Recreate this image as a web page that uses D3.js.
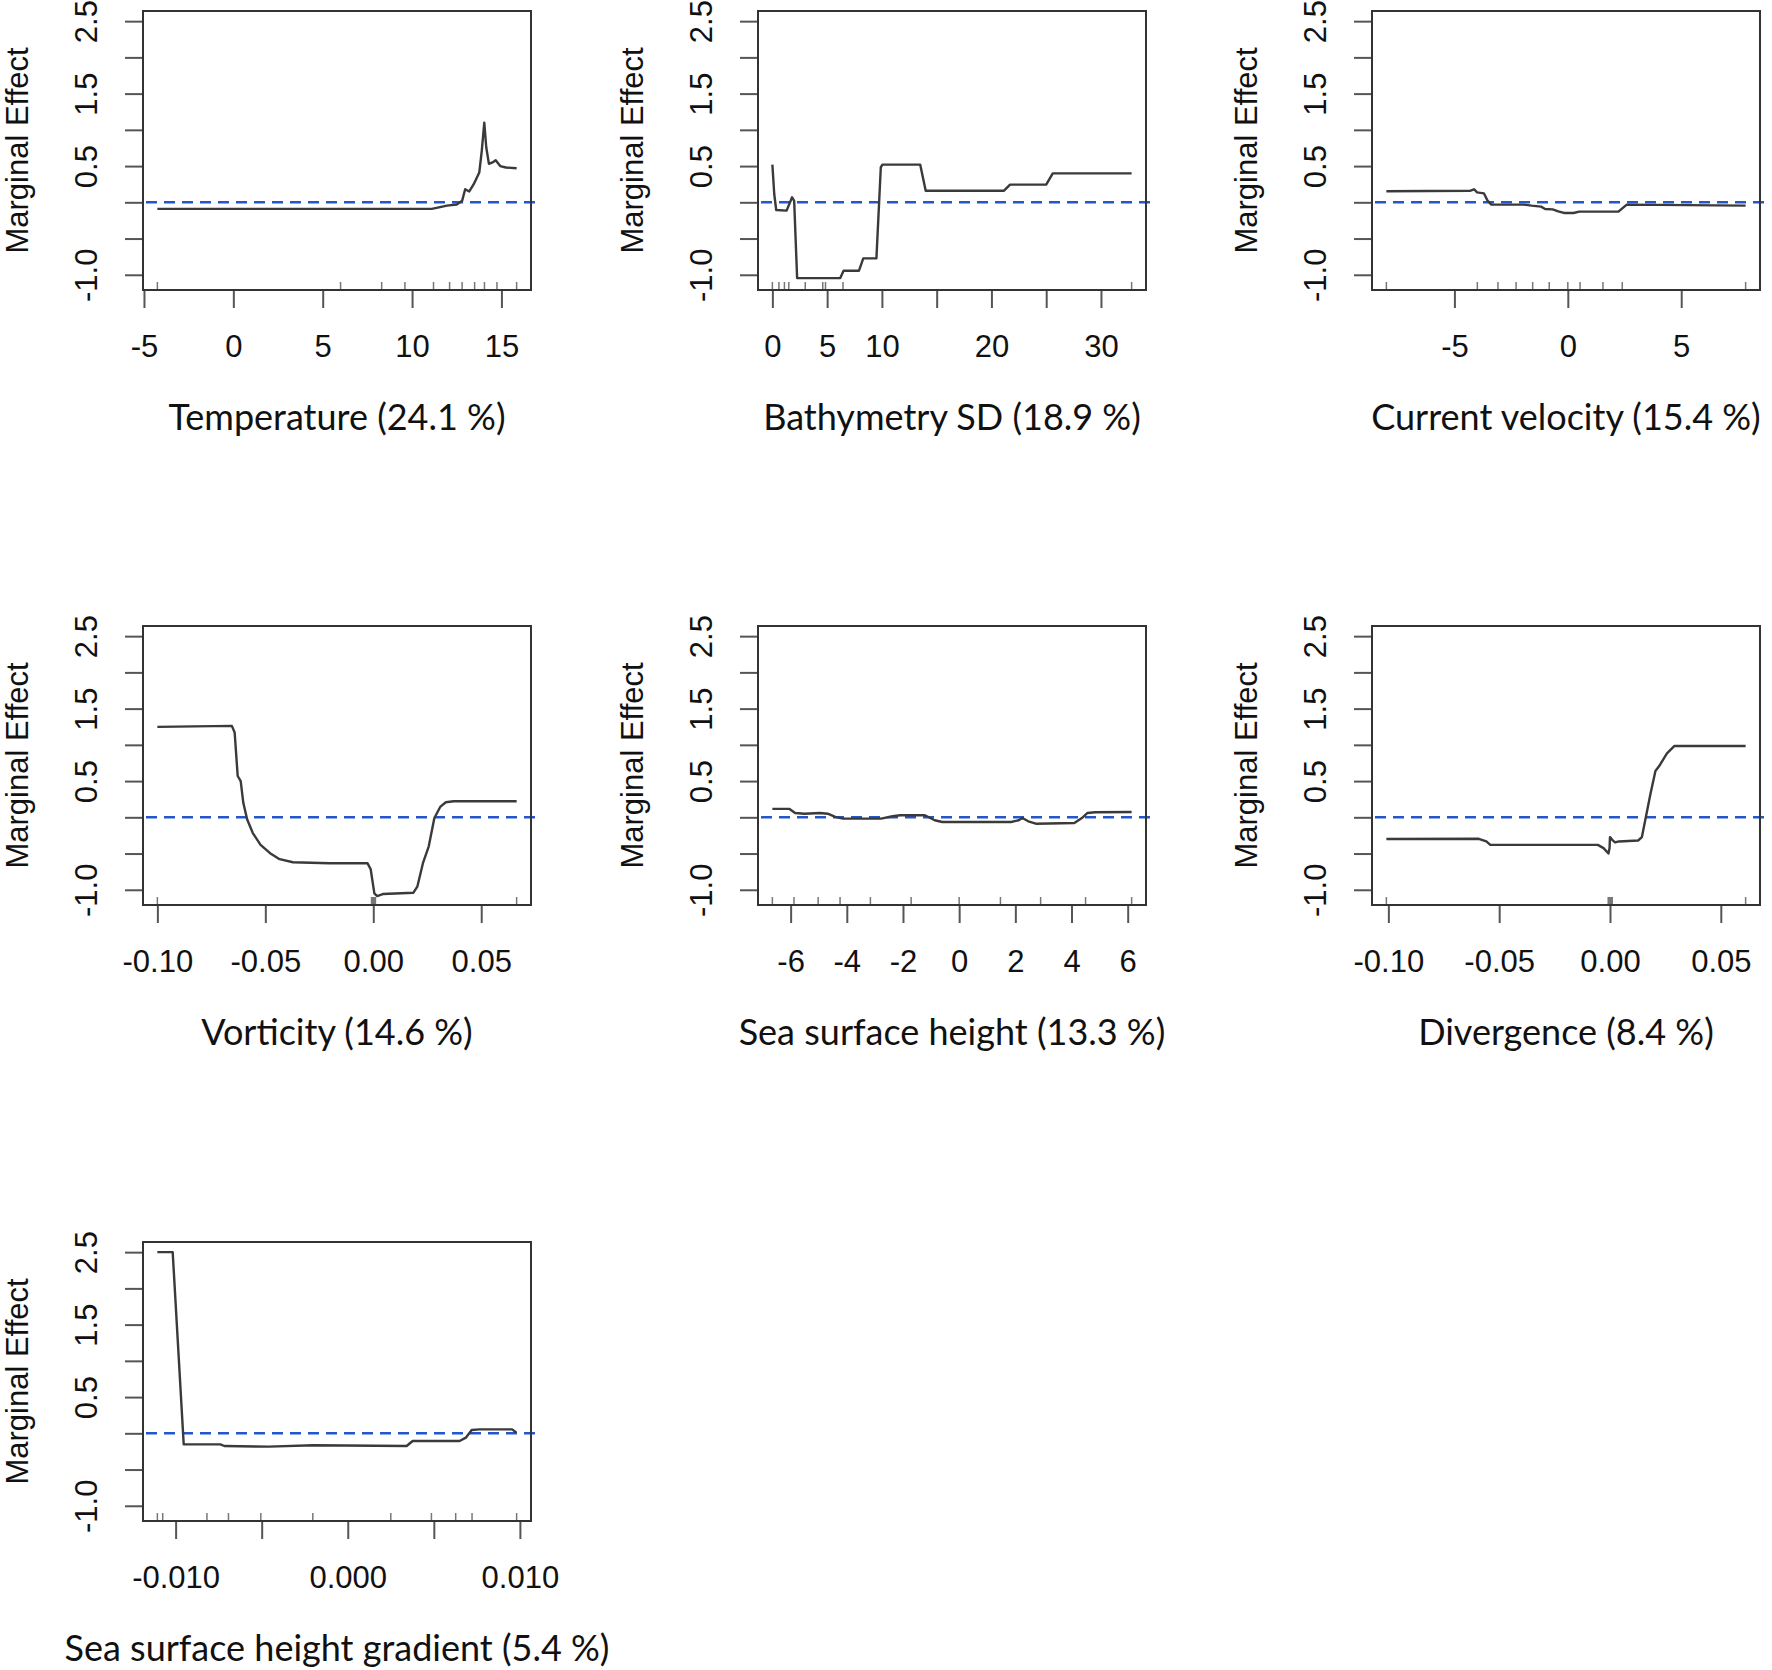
<!DOCTYPE html>
<html>
<head>
<meta charset="utf-8">
<script src="https://cdnjs.cloudflare.com/ajax/libs/d3/7.8.5/d3.min.js"></script>
<style>
    body { margin: 0; background: #fff; }
    svg { display: block; }
</style>
</head>
<body>
<svg id="chart" width="1772" height="1670"></svg>
<script>
"use strict";

// ---- shared y axis ----
const yTicks = [-1.0, -0.5, 0.0, 0.5, 1.0, 1.5, 2.0, 2.5];
const yTickLabels = [-1.0, 0.5, 1.5, 2.5];
const yRange = [-1.21, 2.64];
const refLine = 0;

// ---- Temperature (24.1 %) ----
const tempX = [-4.25, 11.1, 11.5, 11.95, 12.5, 12.8, 12.97, 13.2, 13.45, 13.76, 13.9, 14.04, 14.15, 14.3, 14.5, 14.68, 14.93, 15.25, 15.85];
const tempY = [-0.09, -0.09, -0.07, -0.046, -0.03, 0.02, 0.18, 0.15, 0.25, 0.41, 0.71, 1.1, 0.76, 0.53, 0.55, 0.58, 0.50, 0.48, 0.47];
const tempRug = [-4.25, 6.0, 8.3, 9.6, 11.2, 12.1, 12.8, 13.5, 14.05, 14.75, 15.85];
const tempTicks = [-5, 0, 5, 10, 15];
const tempLabels = [-5, 0, 5, 10, 15];

// ---- Bathymetry SD (18.9 %) ----
const bathyX = [0, 0.17, 0.35, 1.3, 1.8, 1.99, 2.26, 6.2, 6.5, 7.9, 8.3, 9.5, 9.9, 10.05, 13.5, 14.0, 21.15, 21.7, 25.0, 25.6, 32.8];
const bathyY = [0.52, 0.115, -0.106, -0.115, 0.07, 0.02, -1.046, -1.046, -0.945, -0.945, -0.774, -0.774, 0.484, 0.52, 0.52, 0.16, 0.16, 0.244, 0.244, 0.40, 0.40];
const bathyRug = [0, 0.6, 1.1, 1.5, 3.0, 4.6, 4.85, 6.45, 32.8];
const bathyTicks = [0, 5, 10, 15, 20, 25, 30];
const bathyLabels = [0, 5, 10, 20, 30];

// ---- Current velocity (15.4 %) ----
const curX = [-8.0, -4.29, -4.13, -4.0, -3.7, -3.54, -3.37, -1.94, -1.6, -1.18, -1.0, -0.67, -0.42, -0.17, 0.25, 0.5, 2.23, 2.6, 7.84];
const curY = [0.152, 0.16, 0.18, 0.138, 0.124, 0.023, -0.032, -0.032, -0.046, -0.06, -0.092, -0.097, -0.124, -0.147, -0.147, -0.129, -0.129, -0.032, -0.046];
const curRug = [-8.0, -3.99, -3.08, -2.28, -1.55, -0.82, 0, 0.54, 1.55, 2.4, 7.84];
const curTicks = [-5, 0, 5];
const curLabels = [-5, 0, 5];

// ---- Vorticity (14.6 %) ----
const vortX = [-0.100, -0.0655, -0.0642, -0.0628, -0.0614, -0.0602, -0.0584, -0.0558, -0.0522, -0.0478, -0.0434, -0.0372, -0.0204, -0.0027, -0.0012, 0.0005, 0.0018, 0.0044, 0.0186, 0.0204, 0.023, 0.0257, 0.0283, 0.031, 0.0336, 0.0372, 0.0664];
const vortY = [1.248, 1.262, 1.17, 0.57, 0.50, 0.20, -0.03, -0.217, -0.38, -0.495, -0.578, -0.62, -0.633, -0.633, -0.717, -1.05, -1.086, -1.059, -1.04, -0.957, -0.633, -0.40, -0.01, 0.143, 0.208, 0.222, 0.222];
const vortRug = [-0.100, -0.0008, -0.0004, 0, 0.0003, 0.0006, 0.001, 0.0664];
const vortTicks = [-0.10, -0.05, 0.00, 0.05];
const vortLabels = [-0.10, -0.05, 0.00, 0.05];

// ---- Sea surface height (13.3 %) ----
const sshX = [-6.65, -6.04, -5.84, -5.5, -4.95, -4.68, -4.41, -4.14, -2.78, -2.37, -2.1, -1.22, -0.87, -0.6, 1.85, 2.12, 2.25, 2.46, 2.73, 4.1, 4.37, 4.57, 4.84, 6.14];
const sshY = [0.116, 0.116, 0.06, 0.05, 0.06, 0.05, 0.005, -0.018, -0.018, 0.014, 0.028, 0.028, -0.04, -0.065, -0.065, -0.04, -0.01, -0.055, -0.088, -0.078, -0.01, 0.06, 0.07, 0.074];
const sshRug = [-6.65, -5.88, -5.02, -4.24, -3.16, -1.71, 0.0, 1.47, 2.9, 4.5, 6.14];
const sshTicks = [-6, -4, -2, 0, 2, 4, 6];
const sshLabels = [-6, -4, -2, 0, 2, 4, 6];

// ---- Divergence (8.4 %) ----
const divX = [-0.1009, -0.0592, -0.0558, -0.054, -0.0055, -0.0029, -0.0007, -0.0002, 0.0, 0.001, 0.0023, 0.004, 0.0127, 0.0144, 0.0161, 0.0182, 0.0205, 0.0222, 0.0257, 0.0291, 0.0612];
const divY = [-0.30, -0.296, -0.333, -0.38, -0.38, -0.425, -0.50, -0.425, -0.273, -0.31, -0.347, -0.333, -0.32, -0.273, -0.009, 0.315, 0.638, 0.707, 0.883, 0.985, 0.985];
const divRug = [-0.1009, -0.0008, -0.0004, 0, 0.0003, 0.0006, 0.001, 0.0612];
const divTicks = [-0.10, -0.05, 0.00, 0.05];
const divLabels = [-0.10, -0.05, 0.00, 0.05];

// ---- Sea surface height gradient (5.4 %) ----
const sshgX = [-0.01106, -0.01017, -0.00953, -0.00906, -0.0074, -0.00717, -0.00458, -0.002, 0.00342, 0.00377, 0.0065, 0.00686, 0.0072, 0.00767, 0.00955, 0.0098];
const sshgY = [2.5, 2.5, -0.152, -0.152, -0.152, -0.175, -0.184, -0.165, -0.175, -0.106, -0.106, -0.06, 0.046, 0.055, 0.055, 0.009];
const sshgRug = [-0.01106, -0.01075, -0.00818, -0.00693, -0.00505, -0.00203, 0.0025, 0.00486, 0.00627, 0.00722, 0.00981];
const sshgTicks = [-0.010, -0.005, 0.000, 0.005, 0.010];
const sshgLabels = [-0.010, 0.000, 0.010];

const titles = [
    "Temperature (24.1 %)", "Bathymetry SD (18.9 %)", "Current velocity (15.4 %)",
    "Vorticity (14.6 %)", "Sea surface height (13.3 %)", "Divergence (8.4 %)",
    "Sea surface height gradient (5.4 %)"
];

// hyphen minus like R, not the unicode one d3 uses
const locale = d3.formatLocale({decimal: ".", thousands: ",", grouping: [3], currency: ["", ""], minus: "-"});

// table of panels built from the arrays above
const panels = [
    {x: tempX,  y: tempY,  rug: tempRug,  ticks: tempTicks,  labels: tempLabels,  fmt: locale.format("d")},
    {x: bathyX, y: bathyY, rug: bathyRug, ticks: bathyTicks, labels: bathyLabels, fmt: locale.format("d")},
    {x: curX,   y: curY,   rug: curRug,   ticks: curTicks,   labels: curLabels,   fmt: locale.format("d")},
    {x: vortX,  y: vortY,  rug: vortRug,  ticks: vortTicks,  labels: vortLabels,  fmt: locale.format(".2f")},
    {x: sshX,   y: sshY,   rug: sshRug,   ticks: sshTicks,   labels: sshLabels,   fmt: locale.format("d")},
    {x: divX,   y: divY,   rug: divRug,   ticks: divTicks,   labels: divLabels,   fmt: locale.format(".2f")},
    {x: sshgX,  y: sshgY,  rug: sshgRug,  ticks: sshgTicks,  labels: sshgLabels,  fmt: locale.format(".3f")}
];

// layout of the 3x3 grid (plot region of each panel)
const colLeft = [143, 758, 1372];
const rowTop = [11, 626, 1242];
const plotW = 388;
const plotH = 279;

const axisFont = "'Liberation Sans', Arial, Helvetica, sans-serif";
const titleFont = "Lato, 'Open Sans', sans-serif";
const fmtY = locale.format(".1f");

const svg = d3.select("#chart");

panels.forEach(function(p, i) {

    const g = svg.append("g")
        .attr("transform", "translate(" + colLeft[i % 3] + "," + rowTop[Math.floor(i / 3)] + ")");

    // R style: data range plus 4% on each side
    const ext = d3.extent(p.x.concat(p.rug));
    const pad = (ext[1] - ext[0]) * 0.04;
    const x = d3.scaleLinear().domain([ext[0] - pad, ext[1] + pad]).range([0, plotW]);
    const y = d3.scaleLinear().domain(yRange).range([plotH, 0]);

    // y axis with rotated labels
    const yAxis = g.append("g")
        .call(d3.axisLeft(y).tickValues(yTicks).tickSize(18).tickSizeOuter(0)
            .tickFormat(function(d) { return yTickLabels.indexOf(d) >= 0 ? fmtY(d) : ""; }))
        .attr("font-size", 31).attr("font-family", axisFont);
    yAxis.select(".domain").remove();
    yAxis.selectAll(".tick line").attr("stroke", "#555").attr("stroke-width", 2);
    yAxis.selectAll(".tick text")
        .attr("transform", "rotate(-90)")
        .attr("x", 0).attr("y", -46).attr("dy", null)
        .attr("text-anchor", "middle")
        .attr("fill", "#111");

    // x axis
    const xAxis = g.append("g")
        .attr("transform", "translate(0," + plotH + ")")
        .call(d3.axisBottom(x).tickValues(p.ticks).tickSize(18).tickPadding(27).tickSizeOuter(0)
            .tickFormat(function(d) { return p.labels.indexOf(d) >= 0 ? p.fmt(d) : ""; }))
        .attr("font-size", 31).attr("font-family", axisFont);
    xAxis.select(".domain").remove();
    xAxis.selectAll(".tick line").attr("stroke", "#555").attr("stroke-width", 2);
    xAxis.selectAll(".tick text").attr("fill", "#111");

    // rug of the data deciles
    g.selectAll(".rug")
        .data(p.rug)
        .enter()
        .append("line")
        .attr("class", "rug")
        .attr("x1", function(d) { return x(d); })
        .attr("x2", function(d) { return x(d); })
        .attr("y1", plotH)
        .attr("y2", plotH - 8)
        .attr("stroke", "#777")
        .attr("stroke-width", 1.5);

    // reference line
    g.append("line")
        .attr("x1", 3).attr("x2", plotW + 6)
        .attr("y1", y(refLine)).attr("y2", y(refLine))
        .attr("stroke", "#2456cc")
        .attr("stroke-width", 2.5)
        .attr("stroke-dasharray", "11,7");

    // partial dependence curve
    const line = d3.line()
        .x(function(d) { return x(d[0]); })
        .y(function(d) { return y(d[1]); });
    g.append("path")
        .datum(d3.zip(p.x, p.y))
        .attr("d", line)
        .attr("fill", "none")
        .attr("stroke", "#3a3a3a")
        .attr("stroke-width", 2.4)
        .attr("stroke-linejoin", "round");

    // box
    g.append("rect")
        .attr("width", plotW).attr("height", plotH)
        .attr("fill", "none")
        .attr("stroke", "#333")
        .attr("stroke-width", 2);

    // y label
    g.append("text")
        .attr("transform", "translate(-115," + (plotH / 2) + ") rotate(-90)")
        .attr("text-anchor", "middle")
        .attr("font-family", axisFont)
        .attr("font-size", 31)
        .attr("fill", "#111")
        .text("Marginal Effect");

    // variable name with relative influence
    g.append("text")
        .attr("x", plotW / 2)
        .attr("y", plotH + 140)
        .attr("text-anchor", "middle")
        .attr("font-family", titleFont)
        .attr("font-size", 36)
        .attr("fill", "#111")
        .text(titles[i]);
});
</script>
</body>
</html>
